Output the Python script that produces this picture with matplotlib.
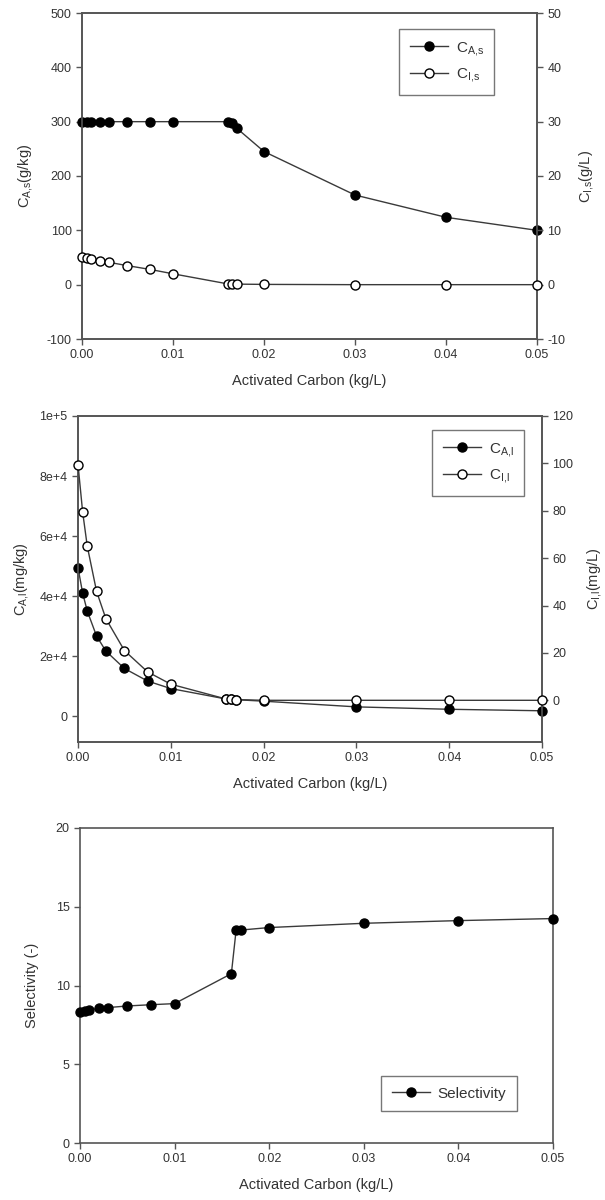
import matplotlib
matplotlib.use("Agg")
import matplotlib.pyplot as plt
import numpy as np

plt.rcParams['font.family'] = ['Liberation Sans', 'DejaVu Sans']
plt.rcParams['mathtext.fontset'] = 'custom'
plt.rcParams['mathtext.rm'] = 'Liberation Sans'
plt.rcParams['mathtext.it'] = 'Liberation Sans'
plt.rcParams['mathtext.default'] = 'regular'
plt.rcParams['axes.unicode_minus'] = False

# ---- data ----
carbon = [0, 0.0005, 0.001, 0.002, 0.003, 0.005, 0.0075, 0.01,
          0.016, 0.0165, 0.017, 0.02, 0.03, 0.04, 0.05]

C_As = [300, 300, 300, 300, 300, 300, 300, 300,
        300, 297, 288, 245, 165, 124, 100]          # g/kg
C_Is = [5.0, 4.9, 4.7, 4.4, 4.1, 3.5, 2.8, 2.0,
        0.15, 0.1, 0.1, 0.05, 0.0, 0.0, 0.0]        # g/L

C_Al = [49500, 41000, 35000, 26700, 21700, 15900, 11700, 9200,
        5700, 5600, 5500, 5000, 3100, 2300, 1800]   # mg/kg
C_Il = [99.5, 79.5, 65.0, 46.0, 34.5, 21.0, 12.0, 6.8,
        0.5, 0.4, 0.3, 0.0, 0.0, 0.0, 0.0]          # mg/L

selectivity = [8.3, 8.37, 8.45, 8.55, 8.6, 8.7, 8.78, 8.85,
               10.75, 13.5, 13.52, 13.68, 13.95, 14.12, 14.25]

xticks = [0.00, 0.01, 0.02, 0.03, 0.04, 0.05]
xticklabels = ['0.00', '0.01', '0.02', '0.03', '0.04', '0.05']

W, H = 605, 1200
fig = plt.figure(figsize=(W / 100, H / 100), dpi=100)

TXT = '#333333'
LINE = '#3a3a3a'
SP = '#555555'
plt.rcParams['text.color'] = TXT
plt.rcParams['axes.labelcolor'] = TXT
plt.rcParams['xtick.color'] = SP
plt.rcParams['ytick.color'] = SP
plt.rcParams['xtick.labelcolor'] = TXT
plt.rcParams['ytick.labelcolor'] = TXT


def rect(l, t, r, b):
    return [l / W, 1 - b / H, (r - l) / W, (b - t) / H]


def style(ax):
    for s in ax.spines.values():
        s.set_color(SP)
        s.set_linewidth(1.2)
    ax.tick_params(direction='out', length=4, width=1, labelsize=9)


def filled(ax, x, y, label):
    return ax.plot(x, y, '-', color=LINE, lw=1.0, marker='o', ms=6.5,
                   mfc='black', mec='black', label=label, zorder=3,
                   clip_on=False)[0]


def hollow(ax, x, y, label):
    return ax.plot(x, y, '-', color=LINE, lw=1.0, marker='o', ms=6.5,
                   mfc='white', mec='black', mew=1.0, label=label, zorder=3,
                   clip_on=False)[0]


def legend(ax, handles, bbox, **kw):
    lg = ax.legend(handles=handles, loc='upper left', bbox_to_anchor=bbox,
                   fontsize=11, frameon=True, fancybox=False, handlelength=2.5,
                   borderpad=0.7, labelspacing=0.55, handletextpad=0.5,
                   borderaxespad=0, **kw)
    lg.get_frame().set_edgecolor('#555555')
    lg.get_frame().set_linewidth(1.0)
    return lg


# ---- top panel ----
ax1 = fig.add_axes(rect(82, 13, 537, 339))
ax1r = ax1.twinx()
l1 = filled(ax1, carbon, C_As, r'C$_{A{,}s}$')
l2 = hollow(ax1r, carbon, C_Is, r'C$_{I{,}s}$')
ax1.set_xlim(0, 0.05)
ax1.set_ylim(-100, 500)
ax1r.set_ylim(-10, 50)
ax1.set_yticks(np.arange(-100, 501, 100))
ax1r.set_yticks(np.arange(-10, 51, 10))
ax1.set_xticks(xticks)
ax1.set_xticklabels(xticklabels)
ax1.set_xlabel('Activated Carbon (kg/L)', fontsize=10.5, labelpad=9)
ax1.set_ylabel(r'C$_{A{,}s}$(g/kg)', fontsize=10.5, labelpad=8)
ax1r.set_ylabel(r'C$_{I{,}s}$(g/L)', fontsize=10.5, labelpad=8)
for a in (ax1, ax1r):
    style(a)
ax1r.set_zorder(ax1.get_zorder() + 1)
legend(ax1r, [l1, l2], ((399 - 82) / 455, 1 - (29 - 13) / 326))

# ---- middle panel ----
ax2 = fig.add_axes(rect(78, 416, 542, 742))
ax2r = ax2.twinx()
m1 = filled(ax2, carbon, C_Al, r'C$_{A{,}l}$')
m2 = hollow(ax2r, carbon, C_Il, r'C$_{I{,}l}$')
ax2.set_xlim(0, 0.05)
ax2.set_ylim(-8600, 100000)
ax2r.set_ylim(-17.6, 120)
ax2.set_yticks([0, 20000, 40000, 60000, 80000, 100000])
ax2.set_yticklabels(['0', '2e+4', '4e+4', '6e+4', '8e+4', '1e+5'])
ax2r.set_yticks(np.arange(0, 121, 20))
ax2.set_xticks(xticks)
ax2.set_xticklabels(xticklabels)
ax2.set_xlabel('Activated Carbon (kg/L)', fontsize=10.5, labelpad=9)
ax2.set_ylabel(r'C$_{A{,}l}$(mg/kg)', fontsize=10.5, labelpad=6)
ax2r.set_ylabel(r'C$_{I{,}l}$(mg/L)', fontsize=10.5, labelpad=8)
for a in (ax2, ax2r):
    style(a)
ax2r.set_zorder(ax2.get_zorder() + 1)
legend(ax2r, [m1, m2], ((432 - 78) / 464, 1 - (430 - 416) / 326))

# ---- bottom panel ----
ax3 = fig.add_axes(rect(80, 828, 553, 1143))
s1 = filled(ax3, carbon, selectivity, 'Selectivity')
ax3.set_xlim(0, 0.05)
ax3.set_ylim(0, 20)
ax3.set_yticks([0, 5, 10, 15, 20])
ax3.set_xticks(xticks)
ax3.set_xticklabels(xticklabels)
ax3.set_xlabel('Activated Carbon (kg/L)', fontsize=10.5, labelpad=9)
ax3.set_ylabel('Selectivity (-)', fontsize=10.5, labelpad=12)
style(ax3)
legend(ax3, [s1], ((381 - 80) / 473, 1 - (1076 - 828) / 315))

fig.savefig('out.png', dpi=100, facecolor='white')
